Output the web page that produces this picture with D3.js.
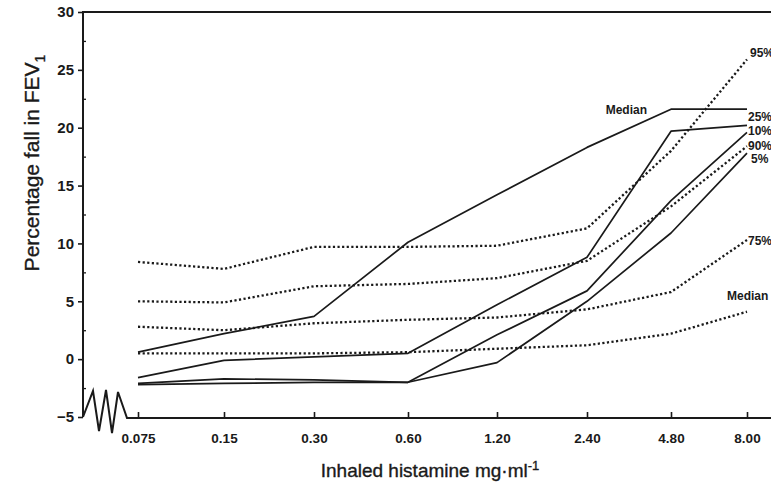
<!DOCTYPE html>
<html>
<head>
<meta charset="utf-8">
<script src="https://cdn.jsdelivr.net/npm/d3@7"></script>
<style>
  body { margin: 0; background: #fff; }
  svg { display: block; background: #fff; }
  text { font-family: Arial, "Liberation Sans", Helvetica, sans-serif; fill: #1a1a1a; }
  .tick-label { font-size: 13.5px; font-weight: bold; }
  .y-label { font-size: 15px; font-weight: bold; }
  .series-label { font-size: 12px; font-weight: bold; }
  .axis-title { font-size: 19px; stroke: #1a1a1a; stroke-width: 0.35px; }
</style>
</head>
<body>
<script>
var width = 771,
    height = 494;

// histamine doses (x categories)
var doses = ["0.075", "0.15", "0.30", "0.60", "1.20", "2.40", "4.80", "8.00"];

// solid lines (percentage fall in FEV1)
var solidMedian = [0.6, 2.2, 3.7, 10.1, 14.2, 18.3, 21.6, 21.6];
var solid25 = [-1.6, -0.1, 0.2, 0.5, 4.7, 8.8, 19.7, 20.2];
var solid10 = [-2.1, -1.7, -1.8, -2.0, 2.1, 5.9, 13.7, 19.6];
var solid5 = [-2.2, -2.1, -2.0, -2.0, -0.3, 5.0, 10.9, 17.8];

// dotted lines
var dot95 = [8.4, 7.8, 9.7, 9.7, 9.8, 11.3, 18.0, 25.9];
var dot90 = [5.0, 4.9, 6.3, 6.5, 7.0, 8.5, 13.2, 18.4];
var dot75 = [2.8, 2.5, 3.1, 3.4, 3.6, 4.3, 5.8, 10.3];
var dotMedian = [0.5, 0.5, 0.5, 0.6, 0.9, 1.2, 2.2, 4.1];

var yTicks = [-5, 0, 5, 10, 15, 20, 25, 30];
var yMinor = [-2.5, 2.5, 7.5, 12.5, 17.5, 22.5, 27.5];

var series = [
  {name: "Median", values: solidMedian, dotted: false, dx: -24, dy: 5, anchor: 6, align: "end"},
  {name: "25%", values: solid25, dotted: false, dx: 1, dy: -4.5, anchor: 7, align: "start"},
  {name: "10%", values: solid10, dotted: false, dx: 1, dy: 2.5, anchor: 7, align: "start"},
  {name: "5%", values: solid5, dotted: false, dx: 4, dy: 10, anchor: 7, align: "start"},
  {name: "95%", values: dot95, dotted: true, dx: 3, dy: -2.5, anchor: 7, align: "start"},
  {name: "90%", values: dot90, dotted: true, dx: 1, dy: 4, anchor: 7, align: "start"},
  {name: "75%", values: dot75, dotted: true, dx: 1, dy: 5, anchor: 7, align: "start"},
  {name: "Median", values: dotMedian, dotted: true, dx: -20, dy: -12, anchor: 7, align: "start"}
];

// hand drawn axis: tick spacing is not quite even
var x = d3.scaleOrdinal()
    .domain(doses)
    .range([138, 224, 314, 408, 497, 587, 671, 747]);

var y = d3.scaleLinear()
    .domain([-5, 30])
    .range([417, 12]);

var svg = d3.select("body").append("svg")
    .attr("width", width)
    .attr("height", height);

var axisLeftX = 83;

// frame: left axis and top line
svg.append("path")
    .attr("d", "M" + width + "," + y(30) + "H" + axisLeftX + "V" + y(-5))
    .attr("fill", "none")
    .attr("stroke", "#1a1a1a")
    .attr("stroke-width", 2);

// axis break zigzag then the bottom axis
var zig = [[0, 0], [10, -26], [16, 14], [23, -27], [29, 16], [35, -25], [44, 1]];
var zigLine = d3.line()
    .x(function(d) { return axisLeftX + d[0]; })
    .y(function(d) { return y(-5) + d[1]; });
svg.append("path")
    .attr("d", zigLine(zig) + "H" + width)
    .attr("fill", "none")
    .attr("stroke", "#1a1a1a")
    .attr("stroke-width", 2)
    .attr("stroke-linejoin", "miter");

// y axis, major ticks outside
var gy = svg.append("g")
    .attr("transform", "translate(" + axisLeftX + ",0)")
    .call(d3.axisLeft(y).tickValues(yTicks).tickSize(5).tickPadding(4));
gy.select(".domain").remove();
gy.selectAll("line").attr("stroke", "#1a1a1a").attr("stroke-width", 1.6);
gy.selectAll("text")
    .attr("class", "y-label")
    .attr("font-size", null)
    .attr("font-family", null);

// minor ticks inside
var gm = svg.append("g")
    .attr("transform", "translate(" + axisLeftX + ",0)")
    .call(d3.axisRight(y).tickValues(yMinor).tickSize(3).tickFormat(""));
gm.select(".domain").remove();
gm.selectAll("line").attr("stroke", "#1a1a1a").attr("stroke-width", 1.3);

// x axis, ticks pointing up
var gx = svg.append("g")
    .attr("transform", "translate(0," + y(-5) + ")")
    .call(d3.axisBottom(x).tickSize(-5).tickPadding(14));
gx.select(".domain").remove();
gx.selectAll("line").attr("stroke", "#1a1a1a").attr("stroke-width", 1.6);
gx.selectAll("text")
    .attr("class", "tick-label")
    .attr("dy", "0.9em")
    .attr("font-size", null)
    .attr("font-family", null);
svg.selectAll(".tick text").attr("fill", "#1a1a1a");

// lines
var line = d3.line()
    .x(function(d, i) { return x(doses[i]); })
    .y(function(d) { return y(d); });

svg.append("g").selectAll("path")
    .data(series)
  .enter().append("path")
    .attr("d", function(d) { return line(d.values); })
    .attr("fill", "none")
    .attr("stroke", "#1a1a1a")
    .attr("stroke-width", function(d) { return d.dotted ? 2.3 : 1.7; })
    .attr("stroke-dasharray", function(d) { return d.dotted ? "2.2,2.4" : null; })
    .attr("stroke-linejoin", "round");

// series labels
svg.append("g").selectAll("text")
    .data(series)
  .enter().append("text")
    .attr("class", "series-label")
    .attr("text-anchor", function(d) { return d.align; })
    .attr("x", function(d) { return x(doses[d.anchor]) + d.dx; })
    .attr("y", function(d) { return y(d.values[d.anchor]) + d.dy; })
    .text(function(d) { return d.name; });

// axis titles
var yt = svg.append("text")
    .attr("class", "axis-title")
    .attr("text-anchor", "middle")
    .style("font-size", "21px")
    .attr("transform", "translate(39,163) rotate(-90)");
yt.append("tspan").text("Percentage fall in FEV");
yt.append("tspan").style("font-size", "14px").attr("dy", 6).text("1");

var xt = svg.append("text")
    .attr("class", "axis-title")
    .attr("text-anchor", "middle")
    .attr("x", 430)
    .attr("y", 477);
xt.append("tspan").text("Inhaled histamine mg\u00b7ml");
xt.append("tspan").style("font-size", "13px").attr("dy", -7).text("-1");
</script>
</body>
</html>
